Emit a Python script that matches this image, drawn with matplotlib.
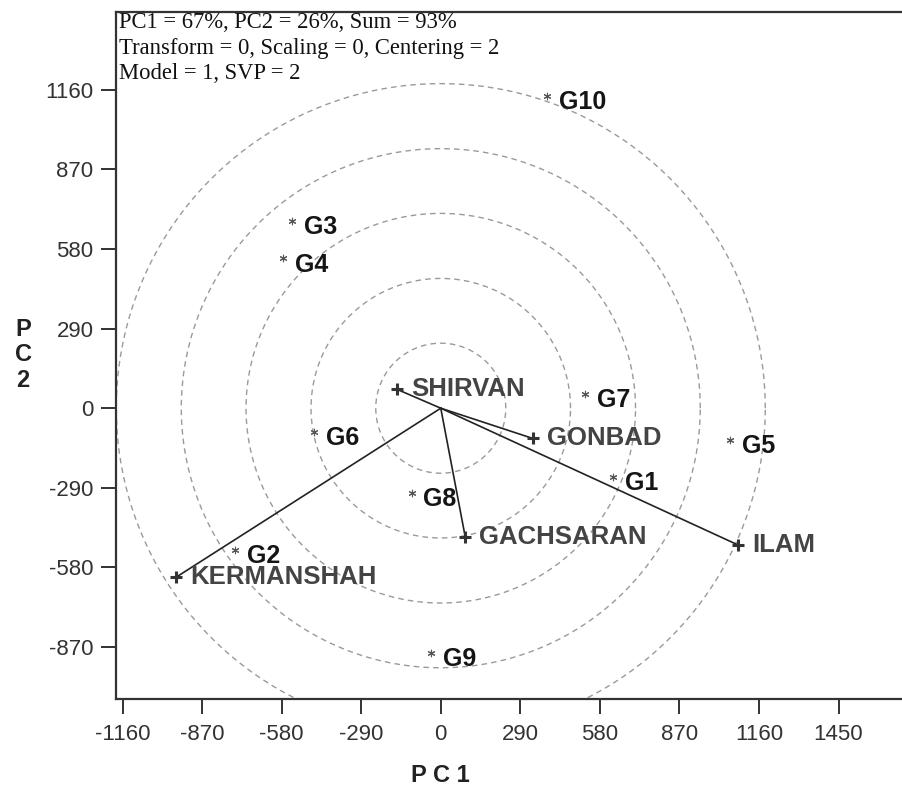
import numpy as np
import matplotlib
matplotlib.use("Agg")
import matplotlib.pyplot as plt

# genotype scores (PC1, PC2)
gen_names = ['G1', 'G2', 'G3', 'G4', 'G5', 'G6', 'G7', 'G8', 'G9', 'G10']
gen_pc1 = [629, -749, -543, -574, 1055, -461, 526, -106, -36, 387]
gen_pc2 = [-250, -517, 683, 546, -116, -87, 51, -308, -893, 1138]

# environment scores (PC1, PC2)
env_names = ['SHIRVAN', 'GONBAD', 'GACHSARAN', 'ILAM', 'KERMANSHAH']
env_pc1 = [-160, 335, 89, 1085, -965]
env_pc2 = [69, -110, -468, -499, -616]

# concentric rings around the biplot origin
ring_radius = [237, 473, 710, 946, 1183]

x_ticks = [-1160, -870, -580, -290, 0, 290, 580, 870, 1160, 1450]
y_ticks = [1160, 870, 580, 290, 0, -290, -580, -870]
info_lines = ['PC1 = 67%, PC2 = 26%, Sum = 93%',
              'Transform = 0, Scaling = 0, Centering = 2',
              'Model = 1, SVP = 2']

plt.rcParams['font.family'] = ['Liberation Sans', 'DejaVu Sans']
plt.rcParams['axes.unicode_minus'] = False

fig = plt.figure(figsize=(9.02, 7.87), dpi=100)
ax = fig.add_axes([0.1283, 0.1114, 0.8717, 0.8737])
ax.set_xlim(-1185, 1681.5)
ax.set_ylim(-1061, 1445)

t = np.linspace(0, 2 * np.pi, 720)
for r in ring_radius:
    ax.plot(r * np.cos(t), r * np.sin(t), color='#9a9a9a', lw=1.0,
            linestyle=(0, (4, 3)), zorder=1)

# vectors from the origin to each environment
for x, y in zip(env_pc1, env_pc2):
    ax.plot([0, x], [0, y], color='#222222', lw=1.2, zorder=2)

ax.plot(env_pc1, env_pc2, linestyle='none', marker='+', markersize=8,
        markeredgewidth=2.2, color='#333333', zorder=3)
for name, x, y in zip(env_names, env_pc1, env_pc2):
    ax.annotate(name, (x, y), xytext=(10, 0), textcoords='offset points',
                ha='left', va='center', fontsize=18.5, fontweight='bold',
                color='#444444', zorder=4)

ax.scatter(gen_pc1, gen_pc2, marker=(6, 2, 0), s=22, linewidths=0.8,
           color='#555555', zorder=3)
for name, x, y in zip(gen_names, gen_pc1, gen_pc2):
    ax.annotate(name, (x, y), xytext=(8.5, -4.5), textcoords='offset points',
                ha='left', va='center', fontsize=18, fontweight='bold',
                color='#151515', zorder=4)

ax.set_xticks(x_ticks)
ax.set_yticks(y_ticks)
ax.tick_params(direction='out', length=11, width=1.3, color='#222222',
               labelsize=16, labelcolor='#333333', pad=5)
ax.tick_params(axis='x', pad=7)

for side in ['left', 'bottom', 'top']:
    ax.spines[side].set_color('#333333')
    ax.spines[side].set_linewidth(1.6)
ax.spines['right'].set_visible(False)

for i, line in enumerate(info_lines):
    fig.text(0.132, 0.9708 - i * 0.0318, line, family='Liberation Serif',
             fontsize=16.3, color='#111111', ha='left', va='center')

fig.text(440.7 / 902, 1 - 775 / 787, 'P C 1', fontsize=17, fontweight='bold',
         color='#222222', ha='center', va='center')
fig.text(23 / 902, 1 - 355 / 787, 'P\nC\n2', fontsize=17, fontweight='bold',
         color='#222222', ha='center', va='center', linespacing=1.15)

fig.savefig('out.png', dpi=100)
